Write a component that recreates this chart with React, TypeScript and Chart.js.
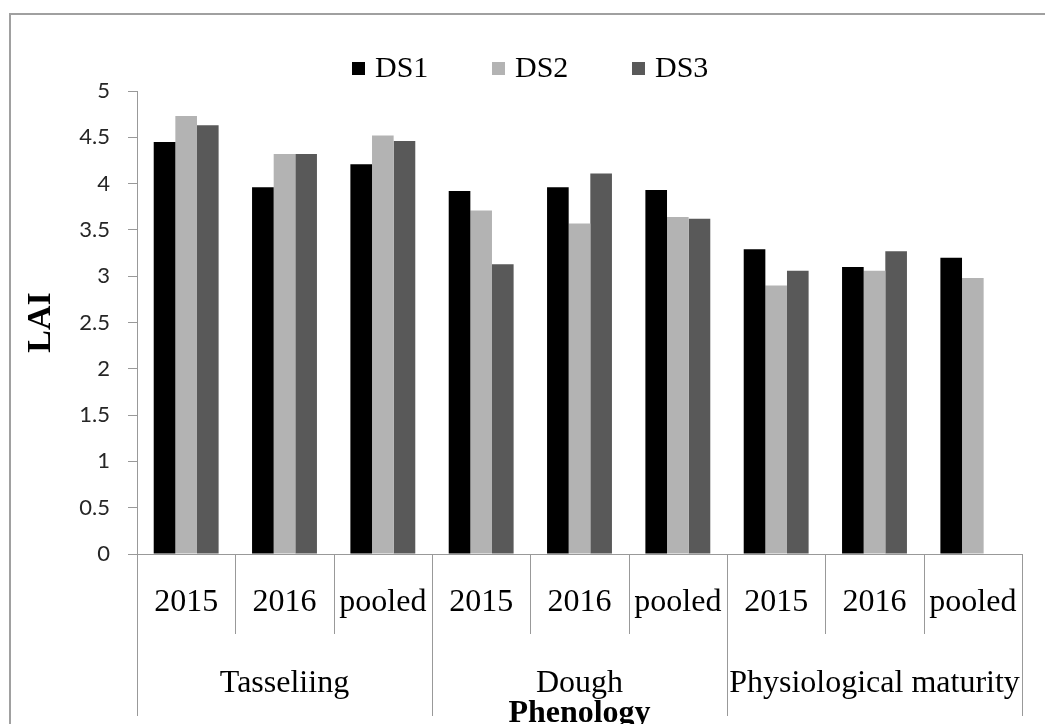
import React, { useEffect, useRef } from 'react';
import { Chart, registerables } from 'chart.js';

Chart.register(...registerables);

const yearLabels = ['2015', '2016', 'pooled', '2015', '2016', 'pooled', '2015', '2016', 'pooled'];
const phenologyGroups = ['Tasseliing', 'Dough', 'Physiological maturity'];
const groupSize = 3;
const seriesNames = ['DS1', 'DS2', 'DS3'];
const ds1Values = [4.45, 3.96, 4.21, 3.92, 3.96, 3.93, 3.29, 3.1, 3.2];
const ds2Values = [4.73, 4.32, 4.52, 3.71, 3.57, 3.64, 2.9, 3.06, 2.98];
const ds3Values: (number | null)[] = [4.63, 4.32, 4.46, 3.13, 4.11, 3.62, 3.06, 3.27, null];
const seriesColors = ['#000000', '#b3b3b3', '#595959'];
const yMin = 0;
const yMax = 5;
const yStep = 0.5;

const SERIF = '"Liberation Serif", "Times New Roman", serif';
const SANS = 'Lato, "Open Sans", sans-serif';
const GRAY = '#999999';

const decorPlugin = {
  id: 'decor',
  beforeDraw(chart: any) {
    const ctx = chart.ctx;
    ctx.save();
    ctx.strokeStyle = '#a0a0a0';
    ctx.lineWidth = 2;
    ctx.strokeRect(10, 14, 1200, 1000);
    ctx.restore();
  },
  afterDraw(chart: any) {
    const ctx = chart.ctx;
    const x = chart.scales.x;
    const axisY = chart.chartArea.bottom;
    ctx.save();
    // category separators
    ctx.strokeStyle = GRAY;
    ctx.lineWidth = 1;
    for (let k = 0; k <= yearLabels.length; k++) {
      const px = Math.round(x.getPixelForValue(k - 0.5)) + 0.5;
      const isGroupEdge = k % groupSize === 0;
      ctx.beginPath();
      ctx.moveTo(px, axisY);
      ctx.lineTo(px, isGroupEdge ? axisY + 162 : axisY + 80);
      ctx.stroke();
    }
    // group labels
    ctx.fillStyle = '#000';
    ctx.font = '32px "Liberation Serif", serif';
    ctx.textAlign = 'center';
    ctx.textBaseline = 'middle';
    phenologyGroups.forEach((g, gi) => {
      const l = x.getPixelForValue(gi * groupSize - 0.5);
      const r = x.getPixelForValue(gi * groupSize + groupSize - 0.5);
      ctx.fillText(g, (l + r) / 2, axisY + 130);
    });
    // legend
    chart.data.datasets.forEach((ds: any, i: number) => {
      const bx = 352 + i * 140;
      ctx.fillStyle = ds.backgroundColor;
      ctx.fillRect(bx, 62, 13, 13);
      ctx.fillStyle = '#000';
      ctx.font = '30px "Liberation Serif", serif';
      ctx.textAlign = 'left';
      ctx.textBaseline = 'middle';
      ctx.fillText(ds.label, bx + 23, 69);
    });
    ctx.restore();
  },
};

export default function App() {
  const ref = useRef<HTMLCanvasElement | null>(null);
  useEffect(() => {
    document.body.style.margin = '0';
    if (!ref.current) return;
    const seriesValues = [ds1Values, ds2Values, ds3Values];
    const chart = new Chart(ref.current, {
      type: 'bar',
      data: {
        labels: yearLabels,
        datasets: seriesNames.map((name, i) => ({
          label: name,
          data: seriesValues[i],
          backgroundColor: seriesColors[i],
          borderWidth: 0,
          categoryPercentage: 0.66,
          barPercentage: 1,
        })),
      },
      options: {
        responsive: false,
        animation: false,
        devicePixelRatio: 1,
        layout: { padding: { top: 91, left: 0, right: 23, bottom: 0 } },
        plugins: {
          legend: { display: false },
          tooltip: { enabled: false },
        },
        scales: {
          x: {
            afterFit: (s: any) => { s.height = 170; },
            grid: { display: false },
            border: { display: true, color: GRAY, width: 1 },
            ticks: {
              color: '#000',
              font: { family: SERIF, size: 32 },
              padding: 21,
              maxRotation: 0,
              autoSkip: false,
            },
            title: {
              display: true,
              text: 'Phenology',
              color: '#000',
              font: { family: SERIF, size: 32, weight: 'bold', lineHeight: 0.65 },
              padding: { top: 0, bottom: 0 },
            },
          },
          y: {
            min: yMin,
            max: yMax,
            afterFit: (s: any) => { s.width = 137; },
            ticks: {
              stepSize: yStep,
              color: '#262626',
              font: { family: SANS, size: 22 },
              padding: 18,
              callback: (v: any) => String(Number(v)),
            },
            grid: { drawOnChartArea: false, drawTicks: true, tickLength: 9, color: GRAY },
            border: { display: true, color: GRAY, width: 1 },
            title: {
              display: true,
              text: 'LAI',
              color: '#000',
              font: { family: SERIF, size: 34, weight: 'bold', lineHeight: 1 },
              padding: { top: 24, bottom: 0 },
            },
          },
        },
      },
      plugins: [decorPlugin],
    });
    return () => chart.destroy();
  }, []);
  return (
    <div style={{ width: 1045, height: 724, background: '#fff' }}>
      <canvas ref={ref} width={1045} height={724} style={{ display: 'block' }} />
    </div>
  );
}
